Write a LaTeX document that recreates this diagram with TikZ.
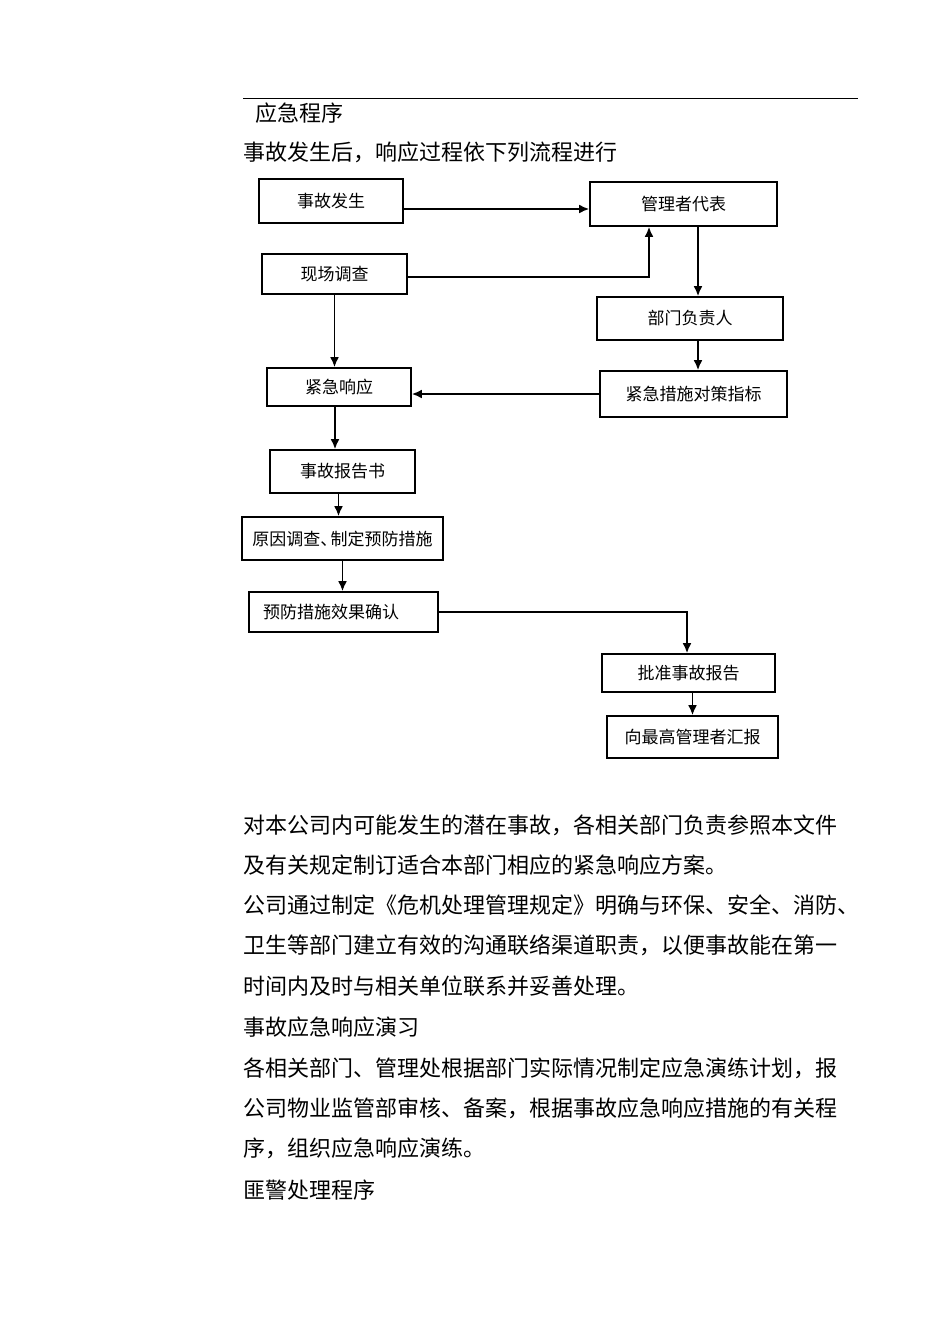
\documentclass[tikz,border=0pt]{standalone}
\usepackage{fontspec}
\setmainfont{Noto Sans CJK SC}
\usepackage{tikz}
\usetikzlibrary{arrows.meta}

\begin{document}
\begin{tikzpicture}
      [x=0.5pt, y=-0.5pt, line width=0.85pt,
       every node/.style={inner sep=0pt},
       box/.style={draw, line width=0.8pt, align=center, font=\fontsize{8.5}{10}\selectfont},
       para/.style={anchor=west, font=\fontsize{11}{13}\selectfont},
       >={Latex[length=5pt, width=4.4pt]}]
      \useasboundingbox (0, 0) rectangle (950, 1344);

      % header
      \draw [line width=0.5pt] (243, 98) -- (858, 98);
      \node (title) [para] at (255, 113) {应急程序};
      \node (intro) [para] at (243, 152) {事故发生后，响应过程依下列流程进行};

      % flow chart
      \node (shigu) [box, minimum width=72pt, minimum height=22pt] at (331, 201) {事故发生};
      \node (daibiao) [box, minimum width=93.5pt, minimum height=22pt] at (683.5, 204) {管理者代表};
      \node (xianchang) [box, minimum width=72.5pt, minimum height=20pt] at (334.5, 274) {现场调查};
      \node (fuzeren) [box, minimum width=93pt, minimum height=21.5pt] at (690, 318.5) {部门负责人};
      \node (cuoshi) [box, minimum width=93.5pt, minimum height=23pt] at (693.5, 394) {紧急措施对策指标};
      \node (xiangying) [box, minimum width=72pt, minimum height=19pt] at (339, 387) {紧急响应};
      \node (baogao) [box, minimum width=72.5pt, minimum height=21.5pt] at (342.5, 471.5) {事故报告书};
      \node (yuanyin) [box, minimum width=100.5pt, minimum height=21.5pt] at (342.5, 538.5) {原因调查、\kern-0.4em制定预防措施};
      \node (queren) [box, text width=80.5pt, inner xsep=7pt, align=left, minimum height=20pt] at (343.5, 612) {预防措施效果确认};
      \node (pizhun) [box, minimum width=86.5pt, minimum height=19pt] at (688.5, 673) {批准事故报告};
      \node (huibao) [box, minimum width=85.5pt, minimum height=21pt] at (692.5, 737) {向最高管理者汇报};

      \coordinate (knick) at (649, 277);
      \coordinate (rline) at (698, 0);
      \coordinate (turn) at (687, 612);

      \draw [->] ([yshift=-4pt]shigu.east) -- ([yshift=-4pt]shigu.east -| daibiao.west);
      \draw [->] (xianchang.east |- knick) -- (knick) -- (knick |- daibiao.south);
      \draw [->] (daibiao.south -| rline) -- (fuzeren.north -| rline);
      \draw [->] (fuzeren.south -| rline) -- (cuoshi.north -| rline);
      \draw [->] (cuoshi.west) -- (cuoshi.west -| xiangying.east);
      \draw [->] (xianchang.south) -- (xianchang.south |- xiangying.north);
      \draw [->] ([xshift=-2pt]xiangying.south) -- ([xshift=-2pt]xiangying.south |- baogao.north);
      \draw [->] ([xshift=-2pt]baogao.south) -- ([xshift=-2pt]baogao.south |- yuanyin.north);
      \draw [->] (yuanyin.south) -- (yuanyin.south |- queren.north);
      \draw [->] (queren.east) -- (turn) -- (turn |- pizhun.north);
      \draw [->] (pizhun.south -| huibao.north) -- (huibao.north);

      % text below
      \node (p1) [para] at (243, 825) {对本公司内可能发生的潜在事故，各相关部门负责参照本文件};
      \node (p2) [para] at (243, 865) {及有关规定制订适合本部门相应的紧急响应方案。};
      \node (p3) [para] at (243, 905) {公司通过制定《危机处理管理规定》明确与环保、安全、消防、};
      \node (p4) [para] at (243, 945) {卫生等部门建立有效的沟通联络渠道职责，以便事故能在第一};
      \node (p5) [para] at (243, 986) {时间内及时与相关单位联系并妥善处理。};
      \node (p6) [para] at (243, 1027) {事故应急响应演习};
      \node (p7) [para] at (243, 1068) {各相关部门、管理处根据部门实际情况制定应急演练计划，报};
      \node (p8) [para] at (243, 1108) {公司物业监管部审核、备案，根据事故应急响应措施的有关程};
      \node (p9) [para] at (243, 1148) {序，组织应急响应演练。};
      \node (p10) [para] at (243, 1190) {匪警处理程序};

\end{tikzpicture}
\end{document}
